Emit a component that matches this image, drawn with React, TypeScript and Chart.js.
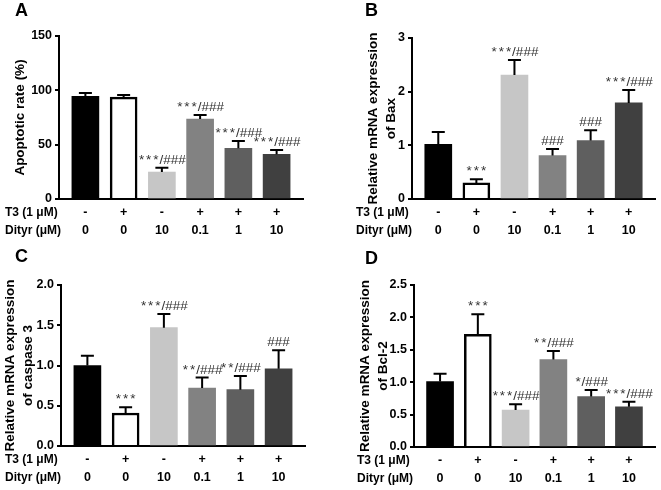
import React, { useEffect, useRef } from 'react';
import { Chart, registerables } from 'chart.js';

Chart.register(...registerables);

// ---- tick labels ----
const t3Labels = ['-', '+', '-', '+', '+', '+'];
const dityrLabels = ['0', '0', '10', '0.1', '1', '10'];
const rowHeaders = ['T3 (1 μM)', 'Dityr (μM)'];

// ---- series values (mean and SEM) ----
const apoptosisMean = [94.5, 93.8, 24.8, 73.6, 46.6, 41.1];
const apoptosisErr = [3.0, 2.0, 4.0, 3.7, 6.8, 4.0];
const apoptosisMarks = ['', '', '***/###', '***/###', '***/###', '***/###'];

const baxMean = [1.02, 0.3, 2.31, 0.81, 1.09, 1.79];
const baxErr = [0.23, 0.07, 0.28, 0.12, 0.19, 0.24];
const baxMarks = ['', '***', '***/###', '###', '###', '***/###'];

const casp3Mean = [1.0, 0.41, 1.47, 0.72, 0.7, 0.96];
const casp3Err = [0.12, 0.07, 0.17, 0.13, 0.17, 0.23];
const casp3Marks = ['', '***', '***/###', '**/###', '**/###', '###'];

const bcl2Mean = [1.01, 1.74, 0.57, 1.35, 0.78, 0.62];
const bcl2Err = [0.12, 0.31, 0.09, 0.13, 0.1, 0.08];
const bcl2Marks = ['', '***', '***/###', '**/###', '*/###', '***/###'];

const barColors = ['#000000', '#ffffff', '#c6c6c6', '#828282', '#5f5f5f', '#404040'];
const barBorders = [0, 2.5, 0, 0, 0, 0];

const FONT = '"Liberation Sans", Arial, Helvetica, sans-serif';

type Panel = {
  letter: string;
  title: string[];
  mean: number[];
  err: number[];
  marks: string[];
  yMax: number;
  step: number;
  decimals: number;
  // layout
  left: number;
  top: number;
  w: number;
  h: number;
  axisLeft: number;
  areaTop: number;
  areaBottom: number;
  areaRight: number;
  titleCenter: number;
  letterX: number;
  letterY: number;
  rowX: number;
};

const panels: Panel[] = [
  {
    letter: 'A', title: ['Apoptotic rate (%)'], mean: apoptosisMean, err: apoptosisErr, marks: apoptosisMarks,
    yMax: 150, step: 50, decimals: 0,
    left: 0, top: 0, w: 330, h: 245, axisLeft: 59, areaTop: 36, areaBottom: 199, areaRight: 303,
    titleCenter: 20, letterX: 15, letterY: 16, rowX: 5,
  },
  {
    letter: 'B', title: ['Relative mRNA expression', 'of Bax'], mean: baxMean, err: baxErr, marks: baxMarks,
    yMax: 3, step: 1, decimals: 0,
    left: 330, top: 0, w: 331, h: 245, axisLeft: 82, areaTop: 38, areaBottom: 199, areaRight: 325,
    titleCenter: 43, letterX: 35, letterY: 16, rowX: 26,
  },
  {
    letter: 'C', title: ['Relative mRNA expression', 'of caspase 3'], mean: casp3Mean, err: casp3Err, marks: casp3Marks,
    yMax: 2, step: 0.5, decimals: 1,
    left: 0, top: 245, w: 330, h: 245, axisLeft: 61, areaTop: 40, areaBottom: 201, areaRight: 305,
    titleCenter: 10, letterX: 15, letterY: 17, rowX: 5,
  },
  {
    letter: 'D', title: ['Relative mRNA expression', 'of Bcl-2'], mean: bcl2Mean, err: bcl2Err, marks: bcl2Marks,
    yMax: 2.5, step: 0.5, decimals: 1,
    left: 330, top: 245, w: 331, h: 245, axisLeft: 84, areaTop: 40, areaBottom: 202, areaRight: 325,
    titleCenter: 35, letterX: 35, letterY: 19, rowX: 27,
  },
];

const TICK_PAD = 5;
const ROW_LH = 18;
const TITLE_SIZE = 13.5;
const STAR_ADVANCE = 7.2;

function drawMark(ctx: CanvasRenderingContext2D, text: string, cx: number, baseY: number) {
  const chars = text.split('');
  const adv = chars.map((c) => (c === '*' ? STAR_ADVANCE : ctx.measureText(c).width));
  const total = adv.reduce((a, b) => a + b, 0);
  let x = cx - total / 2;
  chars.forEach((c, i) => {
    const cw = ctx.measureText(c).width;
    ctx.fillText(c, x + (adv[i] - cw) / 2, baseY);
    x += adv[i];
  });
}

function makePlugin(p: Panel) {
  return {
    id: 'panelExtras' + p.letter,
    afterDatasetsDraw(chart: any) {
      const ctx = chart.ctx as CanvasRenderingContext2D;
      const meta = chart.getDatasetMeta(0);
      const y = chart.scales.y;
      ctx.save();
      // error bars
      ctx.strokeStyle = '#000';
      ctx.lineWidth = 2;
      p.mean.forEach((m, i) => {
        const bar = meta.data[i];
        const x = bar.x;
        const y0 = y.getPixelForValue(m);
        const y1 = y.getPixelForValue(m + p.err[i]);
        ctx.beginPath();
        ctx.moveTo(x, y0);
        ctx.lineTo(x, y1);
        ctx.moveTo(x - 6.5, y1);
        ctx.lineTo(x + 6.5, y1);
        ctx.stroke();
      });
      // significance marks
      ctx.fillStyle = '#333333';
      ctx.font = `13.5px ${FONT}`;
      ctx.textAlign = 'left';
      ctx.textBaseline = 'alphabetic';
      p.marks.forEach((t, i) => {
        if (!t) return;
        const bar = meta.data[i];
        const y1 = y.getPixelForValue(p.mean[i] + p.err[i]);
        drawMark(ctx, t, bar.x, y1 - 4);
      });
      ctx.restore();
    },
    afterDraw(chart: any) {
      const ctx = chart.ctx as CanvasRenderingContext2D;
      const area = chart.chartArea;
      ctx.save();
      ctx.fillStyle = '#000';
      ctx.font = `bold 12px ${FONT}`;
      ctx.textAlign = 'left';
      ctx.textBaseline = 'middle';
      const r0 = area.bottom + TICK_PAD + ROW_LH / 2;
      rowHeaders.forEach((t, i) => ctx.fillText(t, p.rowX, r0 + i * ROW_LH));
      ctx.font = `bold 18px ${FONT}`;
      ctx.textBaseline = 'alphabetic';
      ctx.fillText(p.letter, p.letterX, p.letterY);
      ctx.restore();
    },
  };
}

function PanelChart({ p }: { p: Panel }) {
  const ref = useRef<HTMLCanvasElement | null>(null);
  useEffect(() => {
    if (!ref.current) return;
    const chart = new Chart(ref.current, {
      type: 'bar',
      data: {
        datasets: [
          {
            data: p.mean.map((v, i) => ({ x: i, y: v })),
            backgroundColor: barColors,
            borderColor: '#000',
            borderWidth: barBorders,
            borderSkipped: 'start',
            barThickness: 27,
          } as any,
        ],
      },
      options: {
        responsive: false,
        animation: false,
        devicePixelRatio: 1,
        layout: { padding: { left: 0, top: p.areaTop, right: p.w - p.areaRight, bottom: 0 } },
        plugins: { legend: { display: false }, tooltip: { enabled: false }, title: { display: false } },
        scales: {
          x: {
            type: 'linear',
            offset: false,
            min: -0.69,
            max: 5.69,
            grid: { display: false, drawTicks: false, offset: false },
            border: { display: true, color: '#000', width: 2 },
            afterBuildTicks: (scale: any) => {
              scale.ticks = t3Labels.map((_, i) => ({ value: i }));
            },
            afterFit: (scale: any) => {
              scale.height = p.h - p.areaBottom;
            },
            ticks: {
              autoSkip: false,
              maxRotation: 0,
              minRotation: 0,
              padding: TICK_PAD,
              color: '#000',
              font: { family: FONT, size: 12.5, weight: 'bold', lineHeight: ROW_LH / 12.5 },
              callback: (_v: any, i: number) => [t3Labels[i], dityrLabels[i]],
            },
          },
          y: {
            type: 'linear',
            min: 0,
            max: p.yMax,
            grid: { display: true, drawOnChartArea: false, drawTicks: true, tickLength: 4, color: '#000', lineWidth: 2 },
            border: { display: true, color: '#000', width: 2 },
            afterFit: (scale: any) => {
              scale.width = p.axisLeft;
            },
            ticks: {
              stepSize: p.step,
              padding: 3,
              color: '#000',
              font: { family: FONT, size: 12.5, weight: 'bold' },
              callback: (v: any) => Number(v).toFixed(p.decimals),
            },
            title: {
              display: true,
              text: p.title,
              color: '#000',
              font: { family: FONT, size: TITLE_SIZE, weight: 'bold', lineHeight: ROW_LH / TITLE_SIZE },
              padding: { top: p.titleCenter - ROW_LH / 2, bottom: 0 },
            },
          },
        },
      } as any,
      plugins: [makePlugin(p)],
    });
    return () => chart.destroy();
  }, [p]);
  return (
    <canvas
      ref={ref}
      width={p.w}
      height={p.h}
      style={{ position: 'absolute', left: p.left, top: p.top, width: p.w, height: p.h }}
    />
  );
}

export default function App() {
  return (
    <div style={{ position: 'absolute', left: 0, top: 0, width: 661, height: 490, background: '#fff', overflow: 'hidden' }}>
      {panels.map((p) => (
        <PanelChart key={p.letter} p={p} />
      ))}
    </div>
  );
}
